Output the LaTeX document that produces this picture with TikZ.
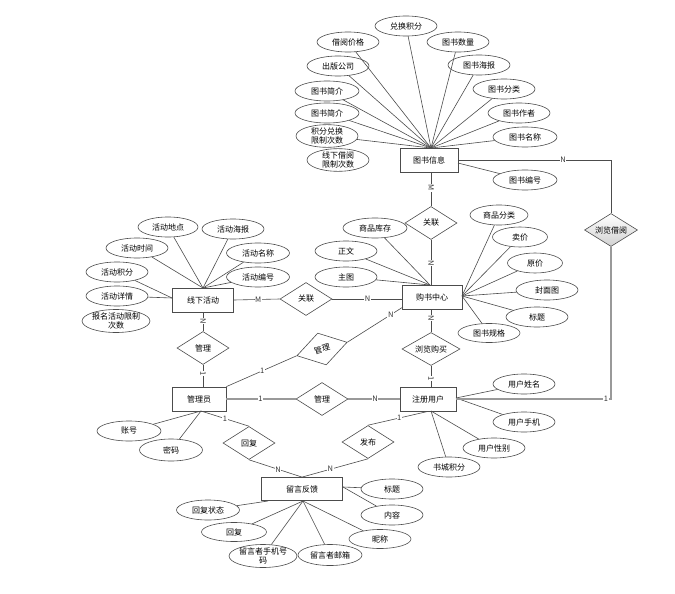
\documentclass[tikz,border=0pt]{standalone}
\usepackage{fontspec}
\newfontfamily\cjk{Noto Sans CJK SC}
\usetikzlibrary{shapes.geometric}
\begin{document}
\begin{tikzpicture}[x=1pt,y=-1pt,
  every node/.style={font=\cjk\fontsize{8}{8.6}\selectfont, text=black},
  ent/.style={draw=black!70, line width=0.8pt, fill=white, rectangle, minimum height=24pt, inner sep=1pt},
  attr/.style={draw=black!70, line width=0.6pt, fill=white, ellipse, minimum width=62pt, minimum height=20pt, inner sep=0pt, align=center},
  rel/.style={draw=black!70, line width=0.6pt, fill=white, diamond, aspect=1.6, minimum width=52pt, minimum height=33pt, inner sep=0pt},
  ln/.style={draw=black!70, line width=0.6pt},
  lnb/.style={draw=black!40, line width=1.2pt},
  lbl/.style={fill=white, inner sep=0.6pt, font=\cjk\fontsize{7.5}{8}\selectfont, text=black!80},
  vlbl/.style={lbl, rotate=-90}
]
\useasboundingbox[fill=white] (0,0) rectangle (675,594);

% ---------- attribute ellipses ----------
% 图书信息
\node[attr] (a1) at (406,26) {兑换积分};
\node[attr] (a2) at (348,42) {借阅价格};
\node[attr] (a3) at (338,66) {出版公司};
\node[attr, minimum width=64pt] (a4) at (327,91) {图书简介};
\node[attr, minimum width=64pt] (a5) at (327,113) {图书简介};
\node[attr, minimum height=22pt] (a6) at (327,136) {积分兑换\\限制次数};
\node[attr, minimum height=21pt] (a7) at (338,160) {线下借阅\\限制次数};
\node[attr] (a8) at (458,42) {图书数量};
\node[attr] (a9) at (479,65) {图书海报};
\node[attr] (a10) at (504,89) {图书分类};
\node[attr] (a11) at (519,113) {图书作者};
\node[attr, minimum width=64pt] (a12) at (525,137) {图书名称};
\node[attr, minimum width=64pt] (a13) at (525,180) {图书编号};
% 线下活动
\node[attr, minimum width=60pt] (b1) at (168,227) {活动地点};
\node[attr] (b2) at (233,229) {活动海报};
\node[attr] (b3) at (137,248) {活动时间};
\node[attr, minimum width=63pt] (b4) at (258,253) {活动名称};
\node[attr] (b5) at (117,272) {活动积分};
\node[attr, minimum width=63pt] (b6) at (258,277) {活动编号};
\node[attr] (b7) at (117,296) {活动详情};
\node[attr, minimum height=23pt] (b8) at (116,321) {报名活动限制\\次数};
% 购书中心
\node[attr, minimum width=64pt] (c1) at (375,228) {商品库存};
\node[attr] (c2) at (346,251) {正文};
\node[attr] (c3) at (346,277) {主图};
\node[attr, minimum width=58pt] (c4) at (499,215) {商品分类};
\node[attr, minimum width=55pt] (c5) at (520,237) {卖价};
\node[attr, minimum width=55pt] (c6) at (535,263) {原价};
\node[attr] (c7) at (547,290) {封面图};
\node[attr] (c8) at (537,317) {标题};
\node[attr, minimum height=19pt] (c9) at (489,333) {图书规格};
% 注册用户
\node[attr] (d1) at (524,384) {用户姓名};
\node[attr] (d2) at (524,422) {用户手机};
\node[attr] (d3) at (494,448) {用户性别};
\node[attr] (d4) at (449,467) {书城积分};
% 管理员
\node[attr, minimum width=64pt] (e1) at (129,431) {账号};
\node[attr, minimum width=63pt, minimum height=22pt] (e2) at (171,450) {密码};
% 留言反馈
\node[attr] (f1) at (392,489) {标题};
\node[attr] (f2) at (392,515) {内容};
\node[attr, minimum height=19pt] (f3) at (380,539) {昵称};
\node[attr, minimum width=64pt, minimum height=21pt] (f4) at (330,555) {留言者邮箱};
\node[attr, minimum width=60pt, minimum height=23pt] (f5) at (263,556) {留言者手机号\\码};
\node[attr, minimum width=65pt, minimum height=19pt] (f6) at (234,532) {回复};
\node[attr, minimum width=63pt] (f7) at (208,510) {回复状态};

% ---------- entities ----------
\node[ent, minimum width=58pt] (tsxx) at (429,160) {图书信息};
\node[ent, minimum width=60pt] (gszx) at (432,297) {购书中心};
\node[ent, minimum width=61pt] (xxhd) at (203,300) {线下活动};
\node[ent, minimum width=54pt] (gly) at (199,399) {管理员};
\node[ent, minimum width=56pt] (zcyh) at (428,399) {注册用户};
\node[ent, minimum width=81pt, minimum height=23pt] (lyfk) at (302,489) {留言反馈};

% ---------- relationships ----------
\node[rel] (gl1) at (431,223) {关联};
\node[rel] (gl2) at (306,299) {关联};
\node[rel] (m1) at (203,348) {管理};
\node[rel, rotate=15] (m2) at (322,349) {管理};
\node[rel] (m3) at (322,399) {管理};
\node[rel] (hf) at (249,443) {回复};
\node[rel] (fb) at (368,442) {发布};
\node[rel, minimum width=58pt] (llgm) at (431,349) {浏览购买};
\node[rel, minimum width=53pt, top color=white, bottom color=black!18, draw=black!70] (lljy) at (611,230) {浏览借阅};

% ---------- convergence points ----------
\coordinate (pt) at (431,148);
\coordinate (px) at (203,288);
\coordinate (pxl) at (172,298);
\coordinate (pgt) at (430,285);
\coordinate (pgr) at (462,296);
\coordinate (pgl) at (403,307);
\coordinate (pzr) at (456,398);
\coordinate (pzb) at (431,411);
\coordinate (pgb) at (201,411);
\coordinate (plb) at (303,501);
\coordinate (plb2) at (268,501);
\coordinate (plr) at (343,487);
\coordinate (pbr) at (458,163);

% ---------- attribute connectors ----------
\foreach \n in {a1,a2,a3,a4,a5,a6,a8,a9,a10,a11,a12} \draw[ln] (pt) -- (\n);
\draw[ln] (pbr) -- (a13);
\foreach \n in {b1,b2,b3,b4,b6} \draw[ln] (px) -- (\n);
\foreach \n in {b5,b7} \draw[ln] (pxl) -- (\n);
\foreach \n in {c1,c2,c3} \draw[ln] (pgt) -- (\n);
\foreach \n in {c4,c5,c6,c7,c8,c9} \draw[ln] (pgr) -- (\n);
\foreach \n in {d1,d2} \draw[ln] (pzr) -- (\n);
\foreach \n in {d3,d4} \draw[ln] (pzb) -- (\n);
\foreach \n in {e1,e2} \draw[ln] (pgb) -- (\n);
\foreach \n in {f3,f4,f5,f6} \draw[ln] (plb) -- (\n);
\draw[ln] (plb2) -- (f7);
\draw[ln] (plr) -- (f1);
\draw[ln] (plr) -- (f2);

% ---------- relationship connectors ----------
\draw[ln] (gl1.north |- tsxx.south) -- node[vlbl,pos=0.46]{M} (gl1.north);
\draw[ln] (gl1.south) -- node[vlbl,pos=0.52]{N} (gl1.south |- gszx.north);
\draw[ln] (xxhd.east) -- node[lbl,pos=0.53]{M} (gl2.west);
\draw[ln] (gl2.east) -- node[lbl,pos=0.51]{N} (gszx.west |- gl2.east);
\draw[ln] (xxhd.south -| m1.north) -- node[vlbl,pos=0.45]{N} (m1.north);
\draw[ln] (m1.south) -- node[vlbl,pos=0.4]{1} (m1.south |- gly.north);
\draw[ln] (llgm.north |- gszx.south) -- node[vlbl,pos=0.38]{N} (llgm.north);
\draw[ln] (llgm.south) -- node[vlbl,pos=0.6]{1} (llgm.south |- zcyh.north);
\draw[ln] (pgl) -- node[lbl,pos=0.22]{N} (m2.east);
\draw[ln] (m2.west) -- node[lbl,pos=0.49]{1} (gly.north east);
\draw[lnb] (gly.east) -- node[lbl,pos=0.49]{1} (m3.west);
\draw[lnb] (m3.east) -- node[lbl,pos=0.52]{N} (zcyh.west);
\draw[ln] (pgb) -- node[lbl,pos=0.5]{1} (hf.north);
\draw[ln] (hf.south) -- node[lbl,pos=0.55]{N} (lyfk.north);
\draw[ln] (fb.south) -- node[lbl,pos=0.57]{N} (lyfk.north);
\draw[ln] (fb.north) -- node[lbl,pos=0.52]{1} (zcyh.south);
\draw[ln] (tsxx.east) -| node[lbl,pos=0.343]{N} (lljy.north);
\draw[lnb] (zcyh.east) -| node[lbl,pos=0.484]{1} (lljy.south);
\end{tikzpicture}
\end{document}
